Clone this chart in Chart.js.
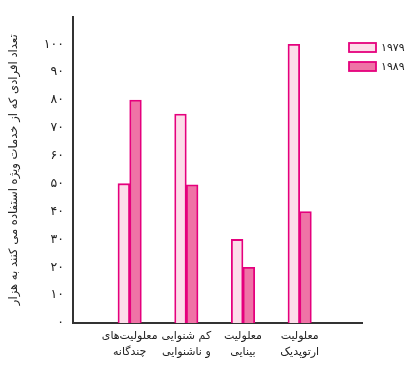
<!DOCTYPE html>
<html>
<head>
<meta charset="utf-8">
<script src="https://cdn.jsdelivr.net/npm/chart.js@4"></script>
<style>
  html, body { margin: 0; padding: 0; background: #ffffff; }
  #wrap { width: 410px; height: 365px; position: relative; }
</style>
</head>
<body>
<div id="wrap"><canvas id="chart"></canvas></div>
<script>
// Categories (two-line labels, bottom axis)
const categories = [
  ['معلولیت‌های', 'چندگانه'],
  ['کم شنوایی', 'و ناشنوایی'],
  ['معلولیت', 'بینایی'],
  ['معلولیت', 'ارتوپدیک']
];
// Series (thousands of people)
const seriesNames = ['۱۹۷۹', '۱۹۸۹'];
const values1979 = [50, 75, 30, 100];
const values1989 = [80, 49.6, 20, 40];
// Y tick values that carry a label
const yTickValues = [0, 10, 20, 30, 40, 50, 60, 70, 80, 90, 100];
const yTitle = 'تعداد افرادی که از خدمات ویژه استفاده می کنند به هزار';

const FONT = '"DejaVu Sans", sans-serif';
const persianDigits = '۰۱۲۳۴۵۶۷۸۹';
const toFa = n => String(n).replace(/[0-9]/g, d => persianDigits[+d]);

const edge = '#e5007d';
const fills = ['#fcdde9', '#ef73a6'];

const toPoints = arr => arr.map((v, i) => ({ x: i + 1, y: v }));

// Legend drawn at the upper right, beside the plot
const sideLegend = {
  id: 'sideLegend',
  afterDraw(chart) {
    const ctx = chart.ctx;
    ctx.save();
    chart.data.datasets.forEach((ds, i) => {
      const x = 349, y = 43 + i * 19, w = 27, h = 9;
      ctx.fillStyle = ds.backgroundColor;
      ctx.fillRect(x, y, w, h);
      ctx.strokeStyle = ds.borderColor;
      ctx.lineWidth = 1.8;
      ctx.strokeRect(x, y, w, h);
      ctx.fillStyle = '#222';
      ctx.font = '11px ' + FONT;
      ctx.textBaseline = 'middle';
      ctx.textAlign = 'left';
      ctx.fillText(ds.label, x + w + 5, y + h / 2 + 1);
    });
    ctx.restore();
  }
};

new Chart(document.getElementById('chart'), {
  type: 'bar',
  data: {
    datasets: [
      { label: seriesNames[0], data: toPoints(values1979), backgroundColor: fills[0], borderColor: edge, borderWidth: 1.8 },
      { label: seriesNames[1], data: toPoints(values1989), backgroundColor: fills[1], borderColor: edge, borderWidth: 1.8 }
    ]
  },
  options: {
    responsive: true,
    maintainAspectRatio: false,
    animation: false,
    devicePixelRatio: 1,
    layout: { padding: { top: 14, right: 48, bottom: 0, left: 0 } },
    datasets: { bar: { barThickness: 11.7 } },
    plugins: { legend: { display: false }, tooltip: { enabled: false } },
    scales: {
      x: {
        type: 'linear',
        offset: false,
        min: 0,
        max: 5.1,
        grid: { display: false, drawTicks: false },
        border: { display: true, color: '#333', width: 2 },
        afterFit: s => { s.height = 42; },
        ticks: {
          stepSize: 1,
          autoSkip: false,
          maxRotation: 0,
          padding: 5,
          color: '#222',
          font: { family: FONT, size: 11, lineHeight: 1.45 },
          callback: v => (Number.isInteger(v) && categories[v - 1]) ? categories[v - 1] : ''
        }
      },
      y: {
        min: 0,
        max: 110,
        grid: { display: false, drawTicks: false },
        border: { display: true, color: '#333', width: 2 },
        afterFit: s => { s.width = 73; },
        title: {
          display: true,
          text: yTitle,
          color: '#222',
          padding: { top: 7, bottom: 0 },
          font: { family: FONT, size: 11.6, lineHeight: 1.2 }
        },
        ticks: {
          stepSize: 10,
          padding: 9,
          color: '#222',
          font: { family: FONT, size: 12.5 },
          callback: v => yTickValues.includes(v) ? toFa(v) : ''
        }
      }
    }
  },
  plugins: [sideLegend]
});
</script>
</body>
</html>
